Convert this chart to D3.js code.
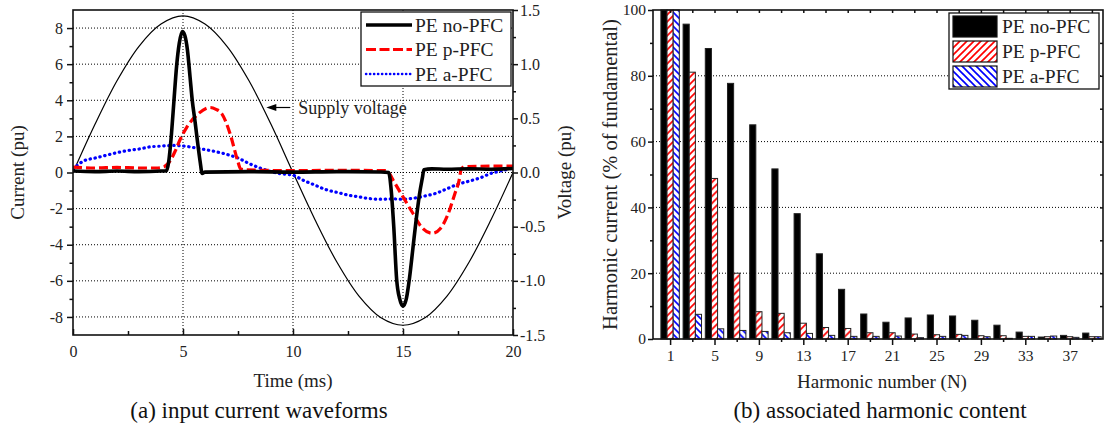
<!DOCTYPE html>
<html lang="en">

<head>
  <meta charset="utf-8">
  <title>PE input current and harmonic content</title>
  <script src="https://d3js.org/d3.v7.min.js"></script>
  <style>
    body {
      margin: 0;
      background: white;
    }

    svg {
      display: block;
      font-family: "Liberation Serif", "Times New Roman", serif;
    }

    .grid line {
      stroke: #000;
      stroke-width: 1;
      stroke-dasharray: 1, 2;
    }

    .axis path {
      display: none;
    }

    .axis line {
      stroke: #111;
      stroke-width: 1.5;
    }

    .axis text {
      font-family: "Liberation Serif", "Times New Roman", serif;
      font-size: 16px;
      fill: #222;
    }

    .title {
      font-size: 19px;
      fill: #222;
      text-anchor: middle;
    }

    .caption {
      font-size: 23px;
      fill: #111;
      text-anchor: middle;
    }

    .legend text {
      font-size: 19.5px;
      fill: #222;
    }
  </style>
</head>

<body>
  <svg id="chart" width="1105" height="430"></svg>

  <script>
    // ---- (a) waveforms ----
    var voltTime = [0, 1, 2, 3, 4, 5, 6, 7, 8, 9, 10, 11, 12, 13, 14, 15, 16, 17, 18, 19, 20];
    var voltValue = [0, 0.445, 0.847, 1.165, 1.37, 1.445, 1.37, 1.165, 0.847, 0.445, 0,
      -0.436, -0.829, -1.141, -1.341, -1.41, -1.341, -1.141, -0.829, -0.436, 0];

    var noPfcTime = [0, 1, 2, 3, 4, 4.25, 4.35, 4.48, 4.59, 4.71, 4.83, 4.97, 5.08, 5.2, 5.32, 5.42, 5.55,
      5.65, 5.78, 5.87, 6.0, 8, 10, 12, 14, 14.35, 14.45, 14.58, 14.71, 14.85, 15.0, 15.15, 15.3, 15.45,
      15.6, 15.75, 15.88, 15.95, 16.3, 17, 18, 19, 20];
    var noPfcCurrent = [0.08, 0.05, 0.08, 0.05, 0.08, 0.1, 0.6, 2.2, 4.0, 5.9, 7.15, 7.8, 7.6, 6.8, 5.3, 4.0, 2.8,
      1.8, 0.6, -0.05, 0.02, 0.05, 0.02, 0.05, 0.03, 0.0, -0.8, -3.0, -5.9, -7.0, -7.4, -7.0, -5.8, -4.2,
      -2.6, -1.2, -0.3, 0.15, 0.2, 0.18, 0.2, 0.18, 0.22];

    var pPfcTime = [0, 1, 2, 3, 3.8, 4.1, 4.43, 4.65, 4.86, 5.17, 5.7, 6.23, 6.5, 6.76, 7.14, 7.48, 7.62, 7.8,
      10, 12, 14.2, 14.4, 14.56, 15.0, 15.47, 15.85, 16.33, 16.7, 17.05, 17.35, 17.55, 17.65, 17.8, 19, 20];
    var pPfcCurrent = [0.3, 0.25, 0.28, 0.25, 0.25, 0.3, 0.67, 1.2, 1.8, 2.5, 3.26, 3.6, 3.5, 3.26, 2.15, 0.67, 0.2, 0.15,
      0.1, 0.12, 0.1, -0.1, -0.44, -1.35, -2.3, -3.04, -3.37, -3.1, -2.3, -1.2, -0.44, 0.2, 0.32, 0.35, 0.35];

    var aPfcTime = [0, 0.5, 1, 1.5, 2, 2.5, 3, 3.5, 4, 4.5, 5, 5.5, 6, 6.5, 7, 7.5, 8, 8.5, 9, 9.5, 10,
      10.5, 11, 11.5, 12, 12.5, 13, 13.5, 14, 14.5, 15, 15.5, 16, 16.5, 17, 17.5, 18, 18.5, 19, 19.5, 20];
    var aPfcCurrent = [0.2, 0.65, 0.8, 0.95, 1.1, 1.22, 1.3, 1.42, 1.46, 1.5, 1.47, 1.38, 1.27, 1.15, 1.0, 0.8, 0.5,
      0.25, 0.05, -0.08, -0.15, -0.45, -0.7, -0.95, -1.1, -1.25, -1.35, -1.45, -1.48, -1.46, -1.48, -1.42, -1.3,
      -1.15, -0.9, -0.65, -0.48, -0.3, -0.05, 0.1, 0.25];

    var timeTicks = [0, 5, 10, 15, 20];
    var currentTicks = [-8, -6, -4, -2, 0, 2, 4, 6, 8];
    var voltTicks = [-1.5, -1.0, -0.5, 0.0, 0.5, 1.0, 1.5];

    // ---- (b) harmonic spectrum ----
    var harmonicOrder = [1, 3, 5, 7, 9, 11, 13, 15, 17, 19, 21, 23, 25, 27, 29, 31, 33, 35, 37, 39];
    var harmonicNoPfc = [100, 95.7, 88.3, 77.7, 65.1, 51.7, 38.1, 25.9, 15.1, 7.6, 5.1, 6.4, 7.3, 7.0, 5.7, 4.2, 2.1, 0.6, 1.1, 1.8];
    var harmonicPPfc = [100, 81.1, 48.8, 20.0, 8.3, 7.8, 4.8, 3.5, 3.2, 1.9, 1.9, 1.5, 1.3, 1.4, 1.0, 1.0, 0.8, 0.7, 0.7, 0.7];
    var harmonicAPfc = [100, 7.5, 3.1, 2.6, 2.3, 1.9, 1.7, 1.1, 0.8, 0.8, 0.9, 0.4, 0.8, 1.1, 0.7, 0.2, 0.8, 0.9, 0.5, 0.7];
    var harmonicTicks = [1, 5, 9, 13, 17, 21, 25, 29, 33, 37];
    var percentTicks = [0, 20, 40, 60, 80, 100];

    var seriesNames = ["PE no-PFC", "PE p-PFC", "PE a-PFC"];

    var svg = d3.select("#chart");

    var defs = svg.append("defs");

    function hatch(id, color, forward) {
      var s = 7;
      var p = defs.append("pattern")
        .attr("id", id)
        .attr("patternUnits", "userSpaceOnUse")
        .attr("width", s)
        .attr("height", s);
      p.append("rect").attr("width", s).attr("height", s).attr("fill", "white");
      var segs = forward
        ? [[0, s, s, 0], [-1, 1, 1, -1], [s - 1, s + 1, s + 1, s - 1]]
        : [[0, 0, s, s], [-1, s - 1, 1, s + 1], [s - 1, -1, s + 1, 1]];
      segs.forEach(function(c) {
        p.append("line")
          .attr("x1", c[0]).attr("y1", c[1]).attr("x2", c[2]).attr("y2", c[3])
          .attr("stroke", color)
          .attr("stroke-width", 1.7);
      });
    }
    hatch("hatchRed", "#ff0000", true);
    hatch("hatchBlue", "#0000ff", false);

    var barFill = ["#000", "url(#hatchRed)", "url(#hatchBlue)"];

    /* ================= (a) input current waveforms ================= */
    var a = {left: 73, right: 513, top: 10, bottom: 335};

    var x = d3.scaleLinear().domain([0, 20]).range([a.left, a.right]);
    var y = d3.scaleLinear().domain([-9, 9]).range([a.bottom, a.top]);
    var yV = d3.scaleLinear().domain([-1.5, 1.5]).range([a.bottom, a.top]);

    var gA = svg.append("g");

    gA.append("g").attr("class", "grid")
      .selectAll("line.h")
      .data(currentTicks)
      .enter()
      .append("line")
        .attr("x1", a.left).attr("x2", a.right)
        .attr("y1", function(d) { return y(d); })
        .attr("y2", function(d) { return y(d); });

    gA.append("g").attr("class", "grid")
      .selectAll("line.v")
      .data(timeTicks.slice(1, -1))
      .enter()
      .append("line")
        .attr("y1", a.top).attr("y2", a.bottom)
        .attr("x1", function(d) { return x(d); })
        .attr("x2", function(d) { return x(d); });

    gA.append("defs").append("clipPath").attr("id", "clipA")
      .append("rect")
        .attr("x", a.left).attr("y", a.top)
        .attr("width", a.right - a.left).attr("height", a.bottom - a.top);

    var plotA = gA.append("g").attr("clip-path", "url(#clipA)");

    var voltLine = d3.line()
      .x(function(d) { return x(d[0]); })
      .y(function(d) { return yV(d[1]); })
      .curve(d3.curveCatmullRom);

    var curLine = d3.line()
      .x(function(d) { return x(d[0]); })
      .y(function(d) { return y(d[1]); })
      .curve(d3.curveMonotoneX);

    plotA.append("path")
      .datum(d3.zip(voltTime, voltValue))
      .attr("d", voltLine)
      .attr("fill", "none")
      .attr("stroke", "#000")
      .attr("stroke-width", 1.2);

    plotA.append("path")
      .datum(d3.zip(aPfcTime, aPfcCurrent))
      .attr("d", curLine.curve(d3.curveCatmullRom))
      .attr("fill", "none")
      .attr("stroke", "#0000ff")
      .attr("stroke-width", 3.2)
      .attr("stroke-linecap", "round")
      .attr("stroke-dasharray", "0.4,4.6");

    curLine.curve(d3.curveMonotoneX);

    plotA.append("path")
      .datum(d3.zip(pPfcTime, pPfcCurrent))
      .attr("d", curLine)
      .attr("fill", "none")
      .attr("stroke", "#ff0000")
      .attr("stroke-width", 3.2)
      .attr("stroke-dasharray", "9,4");

    plotA.append("path")
      .datum(d3.zip(noPfcTime, noPfcCurrent))
      .attr("d", curLine)
      .attr("fill", "none")
      .attr("stroke", "#000")
      .attr("stroke-width", 3.6)
      .attr("stroke-linejoin", "round");

    // axes
    gA.append("g").attr("class", "axis")
      .attr("transform", "translate(0," + a.bottom + ")")
      .call(d3.axisBottom(x).tickValues(timeTicks).tickSizeInner(-6).tickSizeOuter(0).tickPadding(11));
    gA.append("g").attr("class", "axis")
      .attr("transform", "translate(0," + a.bottom + ")")
      .call(d3.axisBottom(x).tickValues([2.5, 7.5, 12.5, 17.5]).tickSizeInner(-4).tickSizeOuter(0).tickFormat(""));

    gA.append("g").attr("class", "axis")
      .attr("transform", "translate(" + a.left + ",0)")
      .call(d3.axisLeft(y).tickValues(currentTicks).tickSize(6).tickPadding(4)
        .tickFormat(function(d) { return String(d); }));
    gA.append("g").attr("class", "axis")
      .attr("transform", "translate(" + a.left + ",0)")
      .call(d3.axisLeft(y).tickValues([-7, -5, -3, -1, 1, 3, 5, 7]).tickSize(3.5).tickFormat(""));

    gA.append("g").attr("class", "axis")
      .attr("transform", "translate(" + a.right + ",0)")
      .call(d3.axisRight(yV).tickValues(voltTicks).tickSize(5).tickPadding(2)
        .tickFormat(function(d) { return d.toFixed(1); }));
    gA.append("g").attr("class", "axis")
      .attr("transform", "translate(" + a.right + ",0)")
      .call(d3.axisRight(yV).tickValues([-1.25, -0.75, -0.25, 0.25, 0.75, 1.25]).tickSize(3).tickFormat(""));

    gA.append("rect")
      .attr("x", a.left).attr("y", a.top)
      .attr("width", a.right - a.left).attr("height", a.bottom - a.top)
      .attr("fill", "none")
      .attr("stroke", "#111")
      .attr("stroke-width", 1.6);

    gA.append("text").attr("class", "title")
      .attr("transform", "translate(24," + ((a.top + a.bottom) / 2) + ") rotate(-90)")
      .text("Current (pu)");
    gA.append("text").attr("class", "title")
      .attr("transform", "translate(571," + ((a.top + a.bottom) / 2) + ") rotate(-90)")
      .text("Voltage (pu)");
    gA.append("text").attr("class", "title")
      .attr("x", (a.left + a.right) / 2).attr("y", 387)
      .text("Time (ms)");
    gA.append("text").attr("class", "caption")
      .attr("x", 259).attr("y", 418)
      .text("(a) input current waveforms");

    // supply voltage callout
    var tipX = x(8.65), tipY = yV(0.6);
    gA.append("line")
      .attr("x1", tipX + 8).attr("y1", tipY)
      .attr("x2", tipX + 27).attr("y2", tipY)
      .attr("stroke", "#000").attr("stroke-width", 1.2);
    gA.append("path")
      .attr("d", "M" + (tipX + 3) + "," + tipY + "l10,-3.5l0,7z")
      .attr("fill", "#000");
    gA.append("text")
      .attr("x", tipX + 35).attr("y", tipY + 6)
      .attr("font-size", "18px")
      .attr("fill", "#222")
      .text("Supply voltage");

    // legend (a)
    var legA = gA.append("g").attr("class", "legend");
    legA.append("rect")
      .attr("x", 361).attr("y", 12).attr("width", 150).attr("height", 74)
      .attr("fill", "white").attr("stroke", "#111").attr("stroke-width", 1.3);
    var legStyle = [
      {stroke: "#000", width: 3.6, dash: null, cap: "butt"},
      {stroke: "#ff0000", width: 3.2, dash: "10,3.5", cap: "butt"},
      {stroke: "#0000ff", width: 2.4, dash: "0.3,3.7", cap: "round"}
    ];
    seriesNames.forEach(function(name, i) {
      var cy = 25 + i * 24.5;
      legA.append("line")
        .attr("x1", 366).attr("x2", 412)
        .attr("y1", cy).attr("y2", cy)
        .attr("stroke", legStyle[i].stroke)
        .attr("stroke-width", legStyle[i].width)
        .attr("stroke-dasharray", legStyle[i].dash)
        .attr("stroke-linecap", legStyle[i].cap);
      legA.append("text")
        .attr("x", 415).attr("y", cy + 6.5)
        .text(name);
    });

    /* ================= (b) harmonic content ================= */
    var b = {left: 653, right: 1103, top: 10, bottom: 339};

    var xb = d3.scaleBand()
      .domain(harmonicOrder)
      .range([659, b.right])
      .paddingInner(0.17)
      .paddingOuter(0.085);
    var xs = d3.scaleBand().domain([0, 1, 2]).range([0, xb.bandwidth()]);
    var yb = d3.scaleLinear().domain([0, 100]).range([b.bottom, b.top]);

    var gB = svg.append("g");

    gB.append("g").attr("class", "grid")
      .selectAll("line")
      .data(percentTicks.slice(1, -1))
      .enter()
      .append("line")
        .attr("x1", b.left).attr("x2", b.right)
        .attr("y1", function(d) { return yb(d); })
        .attr("y2", function(d) { return yb(d); });

    var spectra = [harmonicNoPfc, harmonicPPfc, harmonicAPfc];

    var groups = gB.selectAll("g.harm")
      .data(harmonicOrder)
      .enter()
      .append("g")
        .attr("class", "harm")
        .attr("transform", function(d) { return "translate(" + xb(d) + ",0)"; });

    groups.selectAll("rect")
      .data(function(d, i) { return spectra.map(function(s, k) { return {k: k, v: s[i]}; }); })
      .enter()
      .append("rect")
        .attr("x", function(d) { return xs(d.k); })
        .attr("width", xs.bandwidth())
        .attr("y", function(d) { return yb(d.v); })
        .attr("height", function(d) { return yb(0) - yb(d.v); })
        .attr("fill", function(d) { return barFill[d.k]; })
        .attr("stroke", "#222")
        .attr("stroke-width", 1);

    var xbCenter = function(d) { return xb(d) + xb.bandwidth() / 2; };
    var xbAxis = d3.scaleOrdinal().domain(harmonicOrder).range(harmonicOrder.map(xbCenter));

    gB.append("g").attr("class", "axis")
      .attr("transform", "translate(0," + b.bottom + ")")
      .call(d3.axisBottom(xbAxis).tickValues(harmonicTicks).tickSizeInner(6).tickSizeOuter(0).tickPadding(5));
    gB.append("g").attr("class", "axis")
      .attr("transform", "translate(0," + b.bottom + ")")
      .call(d3.axisBottom(xbAxis)
        .tickValues(harmonicOrder.filter(function(h) { return harmonicTicks.indexOf(h) < 0; }))
        .tickSizeInner(3).tickSizeOuter(0).tickFormat(""));
    gB.append("g").attr("class", "axis")
      .attr("transform", "translate(0," + b.top + ")")
      .call(d3.axisBottom(xbAxis).tickValues(harmonicOrder).tickSizeInner(3).tickSizeOuter(0).tickFormat(""));

    gB.append("g").attr("class", "axis")
      .attr("transform", "translate(" + b.left + ",0)")
      .call(d3.axisLeft(yb).tickValues(percentTicks).tickSize(5).tickPadding(2));
    gB.append("g").attr("class", "axis")
      .attr("transform", "translate(" + b.left + ",0)")
      .call(d3.axisLeft(yb).tickValues([10, 30, 50, 70, 90]).tickSize(3).tickFormat(""));
    gB.append("g").attr("class", "axis")
      .attr("transform", "translate(" + b.right + ",0)")
      .call(d3.axisLeft(yb).tickValues([10, 20, 30, 40, 50, 60, 70, 80, 90]).tickSize(3).tickFormat(""));

    gB.selectAll(".axis text").style("font-size", "15.5px");

    gB.append("rect")
      .attr("x", b.left).attr("y", b.top)
      .attr("width", b.right - b.left).attr("height", b.bottom - b.top)
      .attr("fill", "none")
      .attr("stroke", "#111")
      .attr("stroke-width", 1.6);

    gB.append("text").attr("class", "title")
      .attr("transform", "translate(617," + ((b.top + b.bottom) / 2) + ") rotate(-90)")
      .style("font-size", "20.5px")
      .text("Harmonic current (% of fundamental)");
    gB.append("text").attr("class", "title")
      .attr("x", 882).attr("y", 388)
      .text("Harmonic number (N)");
    gB.append("text").attr("class", "caption")
      .attr("x", 880).attr("y", 418)
      .text("(b) associated harmonic content");

    // legend (b)
    var legB = gB.append("g").attr("class", "legend");
    legB.append("rect")
      .attr("x", 949).attr("y", 13).attr("width", 150).attr("height", 76)
      .attr("fill", "white").attr("stroke", "#111").attr("stroke-width", 1.3);
    seriesNames.forEach(function(name, i) {
      var top = 16 + i * 25;
      legB.append("rect")
        .attr("x", 953).attr("y", top)
        .attr("width", 44).attr("height", 21)
        .attr("fill", barFill[i])
        .attr("stroke", "#111")
        .attr("stroke-width", 1.2);
      legB.append("text")
        .attr("x", 1002).attr("y", top + 17)
        .text(name);
    });
  </script>
</body>

</html>
